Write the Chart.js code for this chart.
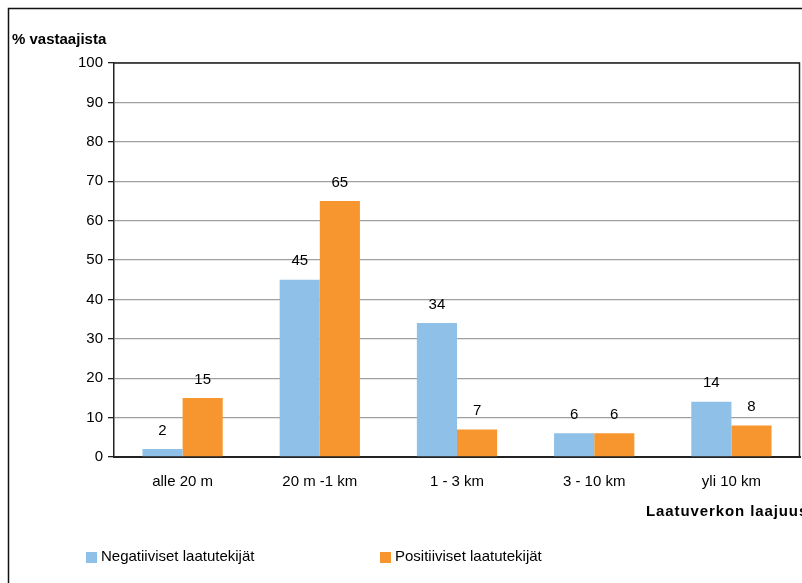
<!DOCTYPE html>
<html>
<head>
<meta charset="utf-8">
<script src="https://cdn.jsdelivr.net/npm/chart.js@4/dist/chart.umd.min.js"></script>
<style>
  html, body { margin: 0; padding: 0; background: #fff; }
  #wrap { width: 802px; height: 583px; }
</style>
</head>
<body>
<div id="wrap"><canvas id="myChart" width="802" height="583"></canvas></div>
<script>
const categories = ['alle 20 m', '20 m -1 km', '1 - 3 km', '3 - 10 km', 'yli 10 km'];
const negatiiviset = [2, 45, 34, 6, 14];
const positiiviset = [15, 65, 7, 6, 8];
const yTicks = [0, 10, 20, 30, 40, 50, 60, 70, 80, 90, 100];

const FONT = 'Liberation Sans, Arial, sans-serif';

// frame, axis titles, value labels and legend
const decorations = {
  id: 'decorations',
  afterDraw(chart) {
    const ctx = chart.ctx;
    const area = chart.chartArea;
    ctx.save();

    // outer frame
    ctx.strokeStyle = '#111';
    ctx.lineWidth = 1.5;
    ctx.beginPath();
    ctx.moveTo(8.5, 590);
    ctx.lineTo(8.5, 8.5);
    ctx.lineTo(810, 8.5);
    ctx.stroke();

    // plot border
    ctx.lineWidth = 1.5;
    ctx.strokeStyle = '#222';
    ctx.beginPath();
    ctx.moveTo(area.left, area.top);
    ctx.lineTo(area.right - 0.5, area.top);
    ctx.lineTo(area.right - 0.5, area.bottom);
    ctx.stroke();

    // titles
    ctx.fillStyle = '#000';
    ctx.font = 'bold 15px ' + FONT;
    ctx.textBaseline = 'middle';
    ctx.textAlign = 'left';
    ctx.fillText('% vastaajista', 12, 40);
    ctx.letterSpacing = '0.9px';
    ctx.fillText('Laatuverkon laajuus', 646, 512);
    ctx.letterSpacing = '0px';

    // value labels
    ctx.font = '15px ' + FONT;
    ctx.textAlign = 'center';
    ctx.textBaseline = 'bottom';
    chart.data.datasets.forEach((ds, i) => {
      chart.getDatasetMeta(i).data.forEach((bar, j) => {
        ctx.fillText(String(ds.data[j]), bar.x, bar.y - 11);
      });
    });

    // legend
    const items = [
      { x: 86, color: chart.data.datasets[0].backgroundColor, text: chart.data.datasets[0].label },
      { x: 380, color: chart.data.datasets[1].backgroundColor, text: chart.data.datasets[1].label }
    ];
    ctx.textAlign = 'left';
    ctx.textBaseline = 'middle';
    items.forEach(it => {
      ctx.fillStyle = it.color;
      ctx.fillRect(it.x, 552, 11, 11);
      ctx.fillStyle = '#000';
      ctx.fillText(it.text, it.x + 15, 557);
    });

    ctx.restore();
  }
};

new Chart(document.getElementById('myChart'), {
  type: 'bar',
  data: {
    labels: categories,
    datasets: [
      {
        label: 'Negatiiviset laatutekijät',
        data: negatiiviset,
        backgroundColor: '#8fc0e8'
      },
      {
        label: 'Positiiviset laatutekijät',
        data: positiiviset,
        backgroundColor: '#f7962f'
      }
    ]
  },
  options: {
    responsive: false,
    animation: false,
    layout: { padding: { top: 63, right: 2, bottom: 0, left: 0 } },
    datasets: {
      bar: { categoryPercentage: 0.585, barPercentage: 1 }
    },
    plugins: {
      legend: { display: false },
      tooltip: { enabled: false }
    },
    scales: {
      x: {
        grid: { display: false, drawTicks: false },
        border: { color: '#222', width: 2 },
        ticks: { color: '#000', font: { family: FONT, size: 15 }, padding: 16 },
        afterFit(axis) { axis.height = 126; }
      },
      y: {
        min: 0,
        max: 100,
        afterBuildTicks(axis) { axis.ticks = yTicks.map(v => ({ value: v })); },
        grid: { color: '#a0a0a0', lineWidth: 1.3, tickLength: 6, tickColor: '#222' },
        border: { color: '#222', width: 1.5 },
        ticks: { color: '#000', font: { family: FONT, size: 15 }, padding: 5 },
        afterFit(axis) { axis.width = 114; }
      }
    }
  },
  plugins: [decorations]
});
</script>
</body>
</html>
